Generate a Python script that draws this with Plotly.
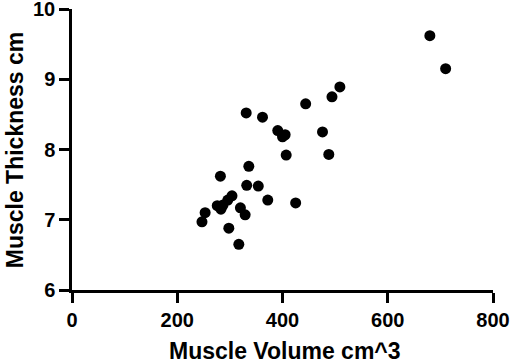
import plotly.graph_objects as go

volume = [680, 710, 509, 494, 444, 331, 362, 391, 405, 400, 476, 407, 488, 336, 282,
          332, 354, 372, 425, 304, 296, 287, 276, 283, 253, 247, 320, 329, 298, 317]
thickness = [9.62, 9.15, 8.89, 8.75, 8.65, 8.52, 8.46, 8.27, 8.21, 8.18, 8.25, 7.92, 7.93, 7.76, 7.62,
             7.49, 7.48, 7.28, 7.24, 7.34, 7.28, 7.21, 7.20, 7.15, 7.10, 6.97, 7.17, 7.07, 6.88, 6.65]

x_ticks = [0, 200, 400, 600, 800]
y_ticks = [6, 7, 8, 9, 10]
x_title = "Muscle Volume cm^3"
y_title = "Muscle Thickness cm"

FONT = "Arial, 'Liberation Sans', sans-serif"

fig = go.Figure(go.Scatter(
    x=volume, y=thickness, mode="markers",
    marker=dict(color="black", size=11, line=dict(width=0)),
    cliponaxis=False, showlegend=False,
))

axis_common = dict(
    showline=True, linecolor="black", linewidth=2.5, mirror=False,
    ticks="outside", ticklen=10, tickwidth=2.5, tickcolor="black",
    showgrid=False, zeroline=False, automargin=False,
    ticklabeloverflow="allow",
    tickfont=dict(family=FONT, size=20, color="black", weight="bold"),
)

fig.update_xaxes(range=[0, 800], tickvals=x_ticks, **axis_common)
fig.update_yaxes(range=[6, 10], tickvals=y_ticks, **axis_common)

title_font = dict(family=FONT, size=23, color="black", weight="bold")
fig.add_annotation(text=x_title, xref="paper", yref="paper", x=0.505, y=-0.218,
                   xanchor="center", yanchor="middle", showarrow=False, font=title_font)
fig.add_annotation(text=y_title, xref="paper", yref="paper", x=-0.136, y=0.5,
                   xanchor="center", yanchor="middle", showarrow=False, textangle=-90,
                   font=title_font)

fig.update_layout(
    width=512, height=363,
    margin=dict(l=72, r=19, t=9, b=73, autoexpand=False),
    plot_bgcolor="white", paper_bgcolor="white",
)

fig.write_html("out.html", config={"displayModeBar": False},
               post_script="document.body.style.margin='0px';document.body.style.overflow='hidden';")
